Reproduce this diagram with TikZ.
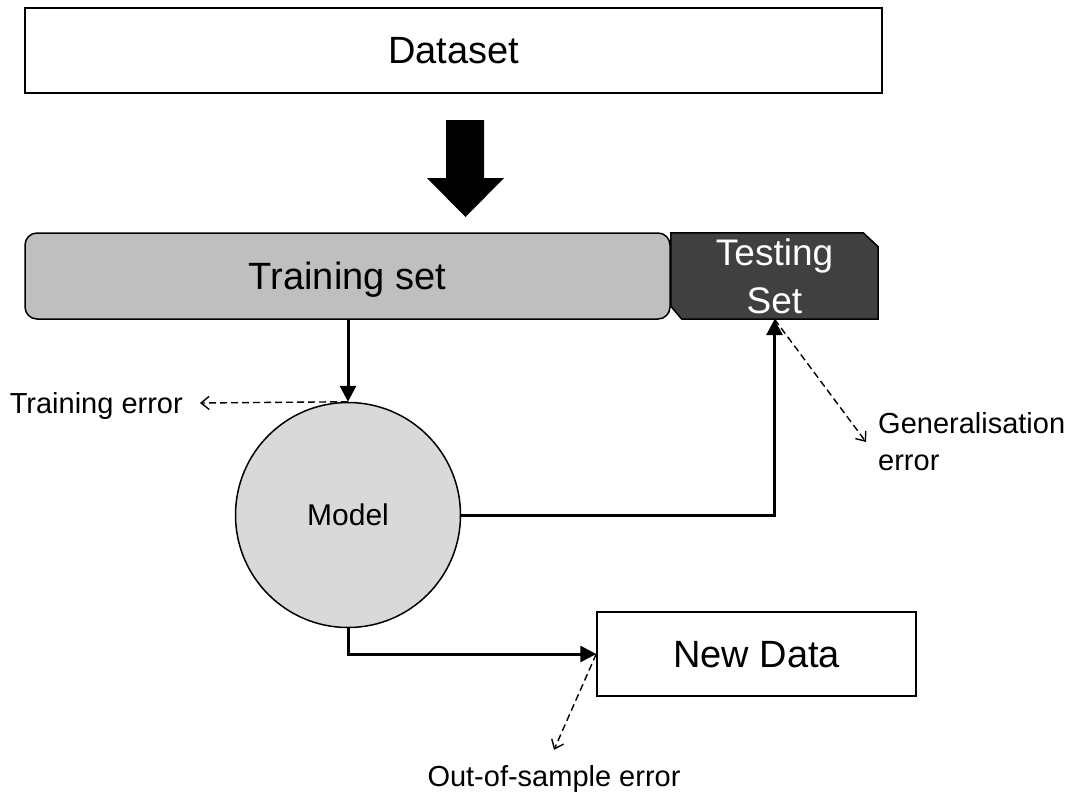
\documentclass[tikz,border=0pt]{standalone}
\usepackage{fontspec}
\setmainfont{Liberation Sans}
\usetikzlibrary{arrows.meta,backgrounds}
\begin{document}
\begin{tikzpicture}[x=1pt,y=-1pt,
  box/.style={draw=black, line width=1.5pt, inner sep=0pt, text depth=0pt},
  bigtext/.style={font=\fontsize{38}{46}\selectfont},
  smalltext/.style={font=\fontsize{29}{37}\selectfont},
  flow/.style={line width=3pt, -{Triangle[length=16pt,width=16pt]}},
  errarrow/.style={line width=1.4pt, dash pattern=on 7pt off 4pt,
    -{Straight Barb[length=8pt,width=13pt]}},
  label/.style={smalltext, inner sep=0pt, text depth=0pt}]
\useasboundingbox (0,0) rectangle (1078,793);

% data blocks
\node[box, bigtext, fill=white, minimum width=857pt, minimum height=85pt]
  (data) at (453.5,50.5) {Dataset};
\node[box, bigtext, fill=gray!50, rounded corners=12pt,
  minimum width=645pt, minimum height=86pt] (train) at (347.5,276) {Training set};
\node[inner sep=0pt, minimum width=207pt, minimum height=86pt, text=white,
  align=center, font=\fontsize{37}{48}\selectfont] (test) at (774.5,276) {Testing\\Set};
\begin{scope}[on background layer]
  \draw[line width=1.5pt, fill=black!75]
    (test.north west) -- ([xshift=-15pt]test.north east)
    -- ([yshift=-14pt]test.north east) -- (test.south east)
    -- ([xshift=11pt]test.south west) -- ([yshift=13pt]test.south west) -- cycle;
\end{scope}

% split arrow
\fill (446,120) -- (484,120) -- (484,178) -- (504,178) -- (465.5,217)
  -- (427,178) -- (446,178) -- cycle;

% model and new data
\node[box, circle, fill=gray!30, minimum size=225pt,
  font=\fontsize{30}{36}\selectfont] (model) at (348,515) {Model};
\node[box, bigtext, fill=white, minimum width=319pt, minimum height=84pt]
  (new) at (756.5,654) {New Data};

% error labels
\node[label, anchor=east] (terr) at (183,403) {Training error};
\node[label, anchor=north west, align=left] (gerr) at (878,412) {Generalisation\\error};
\node[label, anchor=base] (oerr) at (554,786) {Out-of-sample error};

% flows
\draw[flow] (model.north |- train.south) -- (model.north);
\draw[flow] (model.east) -| (test.south);
\draw[flow] (model.south) |- (new.west);

% error arrows
\draw[errarrow] (model.north) -- ([xshift=17pt]terr.east);
\draw[errarrow] (test.south) -- ([xshift=-12pt,yshift=-30pt]gerr.north west);
\draw[errarrow] (new.west) -- ([yshift=15pt]oerr.north);
\end{tikzpicture}
\end{document}
